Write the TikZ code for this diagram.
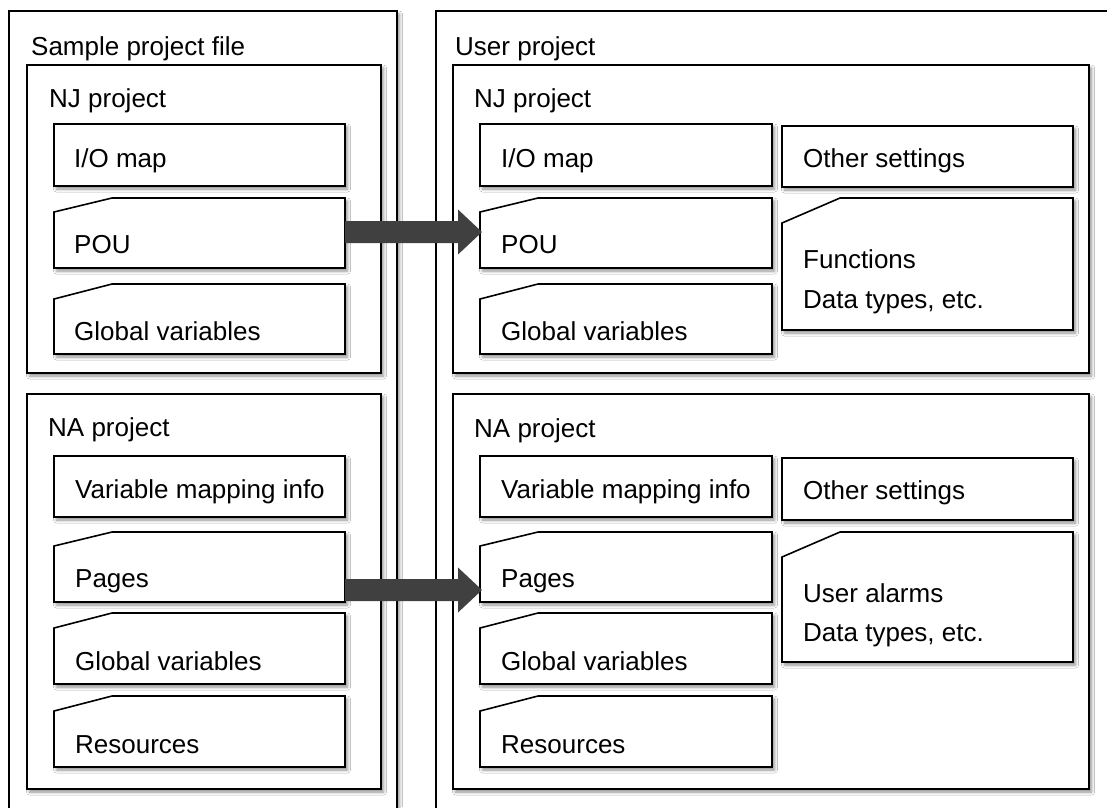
\documentclass[tikz,border=0pt]{standalone}
\usepackage{fontspec}
\setmainfont{Liberation Sans}
\usetikzlibrary{shadows.blur}
\definecolor{arrowgray}{HTML}{404040}
\tikzset{
  boxline/.style={draw=black, line width=1.6pt, fill=white,
    blur shadow={shadow xshift=2.5pt, shadow yshift=-3pt, shadow blur radius=3pt, shadow blur steps=6, shadow opacity=45}},
  ghost/.style={inner sep=0pt, outer sep=0pt, draw=none, anchor=north west},
  lbl/.style={anchor=base west, inner sep=0pt, font=\fontsize{26}{30}\selectfont},
  bigarrow/.style={to path={([yshift=11pt]\tikztostart) -- ([xshift=-22pt,yshift=11pt]\tikztotarget)
     -- ([xshift=-22pt,yshift=22.5pt]\tikztotarget) -- ([xshift=2pt]\tikztotarget)
     -- ([xshift=-22pt,yshift=-22.5pt]\tikztotarget) -- ([xshift=-22pt,yshift=-11pt]\tikztotarget)
     -- ([yshift=-11pt]\tikztostart) -- cycle}}
}
\newcommand\plainpart[5]{\node[ghost, boxline, minimum width=#4pt, minimum height=#5pt] (#1) at (#2,#3) {};}
\newcommand\foldpart[6]{%
  \node[ghost, minimum width=#4pt, minimum height=#5pt] (#1) at (#2,#3) {};
  \draw[boxline] ([yshift=-#6pt]#1.north west) -- ([xshift=58pt]#1.north west) -- (#1.north east)
     -- (#1.south east) -- (#1.south west) -- cycle;}
\begin{document}
\begin{tikzpicture}[x=1pt, y=-1pt]
\useasboundingbox (0,0) rectangle (1107,807);
\clip (0,0) rectangle (1107,807);
\fill[white] (0,0) rectangle (1107,807);
% outer boxes
\plainpart{outL}{9}{11}{388}{860}
\plainpart{outR}{436}{11}{690}{860}
\node[lbl] (tSample) at (31,55) {Sample project file};
\node[lbl] (tUser) at (455,55) {User project};
% project boxes
\plainpart{njL}{27}{65}{354}{308}
\plainpart{njR}{453}{65}{636}{308}
\plainpart{naL}{27}{394}{354}{395}
\plainpart{naR}{453}{394}{636}{395}
\node[lbl] (tNJL) at (49,107) {NJ project};
\node[lbl] (tNJR) at (474,107) {NJ project};
\node[lbl] (tNAL) at (48,436) {NA project};
\node[lbl] (tNAR) at (474,437) {NA project};
% left NJ items
\plainpart{ioL}{54}{124}{291}{62}
\foldpart{pouL}{54}{198}{291}{70}{14}
\foldpart{gvL}{54}{284}{291}{70}{15}
\node[lbl] (tioL) at (74,167) {I/O map};
\node[lbl] (tpouL) at (74,253) {POU};
\node[lbl] (tgvL) at (74,340) {Global variables};
% left NA items
\plainpart{vmL}{54}{456}{291}{61}
\foldpart{pgL}{54}{532}{291}{70}{14}
\foldpart{gv2L}{54}{613}{291}{71}{15}
\foldpart{resL}{54}{696}{291}{71}{15}
\node[lbl] (tvmL) at (75,498) {Variable mapping info};
\node[lbl] (tpgL) at (75,587) {Pages};
\node[lbl] (tgv2L) at (75,670) {Global variables};
\node[lbl] (tresL) at (75,753) {Resources};
% right NJ items
\plainpart{ioR}{480}{124}{292}{62}
\foldpart{pouR}{480}{198}{292}{70}{14}
\foldpart{gvR}{480}{284}{292}{70}{15}
\plainpart{osR}{782}{126}{291}{61}
\foldpart{fnR}{782}{198}{291}{132}{25}
\node[lbl] (tioR) at (501,167) {I/O map};
\node[lbl] (tpouR) at (501,253) {POU};
\node[lbl] (tgvR) at (501,340) {Global variables};
\node[lbl] (tosR) at (803,167) {Other settings};
\node[lbl] (tfnR) at (803,268) {Functions};
\node[lbl] (tdtR) at (803,308) {Data types, etc.};
% right NA items
\plainpart{vmR}{480}{456}{292}{61}
\foldpart{pgR}{480}{532}{292}{70}{14}
\foldpart{gv2R}{480}{613}{292}{71}{15}
\foldpart{resR}{480}{696}{292}{71}{15}
\plainpart{os2R}{782}{458}{291}{62}
\foldpart{alR}{782}{532}{291}{130}{25}
\node[lbl] (tvmR) at (501,498) {Variable mapping info};
\node[lbl] (tpgR) at (501,587) {Pages};
\node[lbl] (tgv2R) at (501,670) {Global variables};
\node[lbl] (tresR) at (501,753) {Resources};
\node[lbl] (tos2R) at (803,499) {Other settings};
\node[lbl] (talR) at (803,602) {User alarms};
\node[lbl] (tdt2R) at (803,641) {Data types, etc.};
% arrows
\coordinate (a2s) at ([yshift=-23pt]pgL.east);
\coordinate (a2e) at ([yshift=-23pt]pgR.west);
\path[fill=arrowgray] ([yshift=1pt]pouL.east) to[bigarrow] ([yshift=1pt]pouR.west);
\path[fill=arrowgray] (a2s) to[bigarrow] (a2e);
\end{tikzpicture}
\end{document}
